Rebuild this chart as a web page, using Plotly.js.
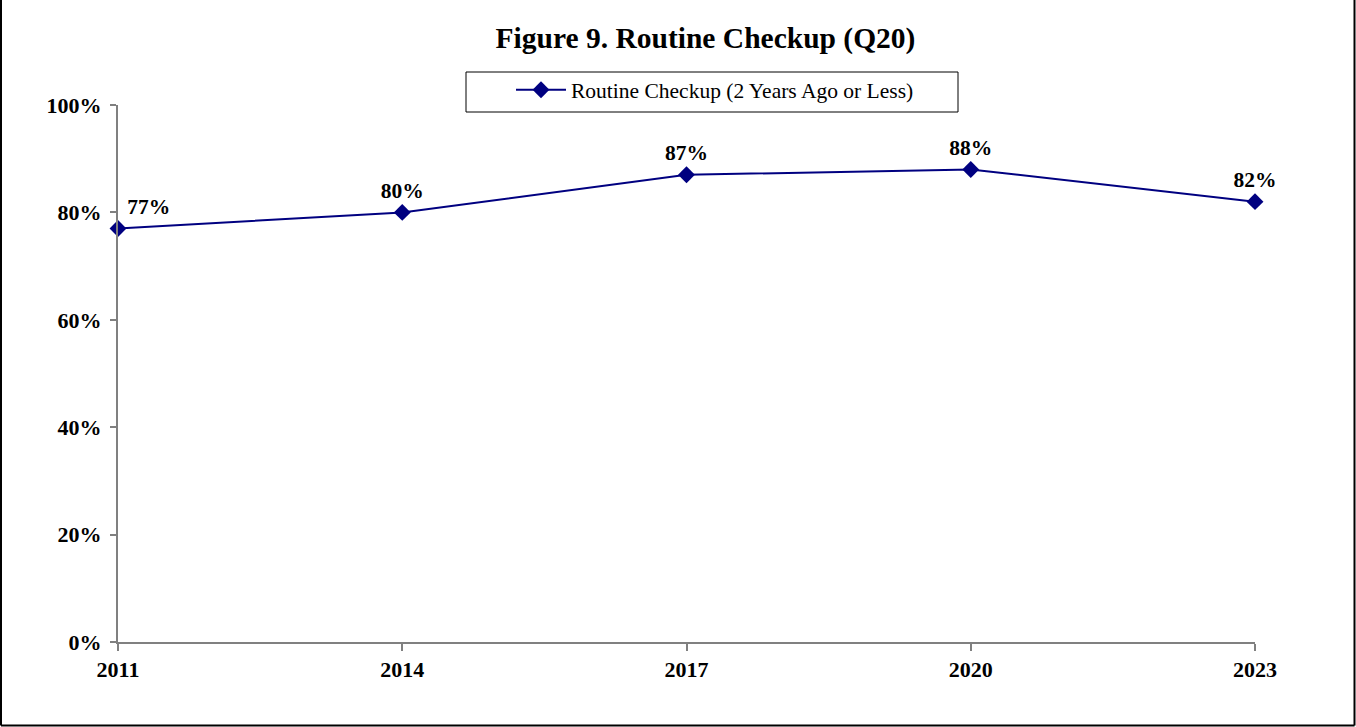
<!DOCTYPE html>
<html>
<head>
<meta charset="utf-8">
<script src="https://cdn.plot.ly/plotly-3.0.1.min.js"></script>
<style>
html,body{margin:0;padding:0;background:#fff;}
#chart{width:1356px;height:727px;}
</style>
</head>
<body>
<div id="chart"></div>
<script>
const years = [2011, 2014, 2017, 2020, 2023];
const checkupValues = [0.77, 0.80, 0.87, 0.88, 0.82];
const dataLabels = ['77%', '80%', '87%', '88%', '82%'];
const yTickVals = [0, 0.2, 0.4, 0.6, 0.8, 1.0];
const yTickText = ['0%', '20%', '40%', '60%', '80%', '100%'];
const seriesName = 'Routine Checkup (2 Years Ago or Less)';
const chartTitle = 'Figure 9. Routine Checkup (Q20)';

const font = 'Liberation Serif, Times New Roman, serif';
const navy = '#000080';

const trace = {
  x: years,
  y: checkupValues,
  type: 'scatter',
  mode: 'lines+markers+text',
  name: seriesName,
  line: {color: navy, width: 2},
  marker: {symbol: 'diamond', size: 13, color: navy},
  text: dataLabels,
  textposition: ['top right', 'top center', 'top center', 'top center', 'top center'],
  textfont: {family: font, size: 21.5, color: '#000', weight: 'bold'},
  cliponaxis: false,
  hoverinfo: 'x+y'
};

const frameLine = {color: '#000', width: 2};
const layout = {
  width: 1356,
  height: 727,
  paper_bgcolor: '#fff',
  plot_bgcolor: '#fff',
  margin: {l: 118, r: 101, t: 105, b: 85, pad: 0},
  title: {
    text: '<b>' + chartTitle + '</b>',
    font: {family: font, size: 29.5, color: '#000'},
    x: 705.5 / 1356, xanchor: 'center',
    y: 1 - 38 / 727, yanchor: 'middle'
  },
  showlegend: true,
  legend: {
    x: (511 - 118) / 1137, xanchor: 'left',
    y: 1.0666, yanchor: 'top',
    orientation: 'h',
    bgcolor: 'rgba(0,0,0,0)',
    borderwidth: 0,
    font: {family: font, size: 21.5, color: '#000'},
    itemwidth: 50
  },
  xaxis: {
    type: 'linear',
    range: [2011, 2023],
    tickmode: 'array',
    tickvals: years,
    ticktext: years.map(String),
    showgrid: false,
    zeroline: false,
    showline: true,
    linecolor: '#808080',
    linewidth: 2,
    ticks: 'outside',
    ticklen: 7,
    tickwidth: 2,
    tickcolor: '#808080',
    tickfont: {family: font, size: 22, color: '#000', weight: 'bold'},
    fixedrange: true
  },
  yaxis: {
    range: [0, 1],
    tickmode: 'array',
    tickvals: yTickVals,
    ticktext: yTickText,
    showgrid: false,
    zeroline: false,
    showline: true,
    linecolor: '#808080',
    linewidth: 2,
    ticks: 'outside',
    ticklen: 6,
    tickwidth: 2,
    tickcolor: '#808080',
    ticklabelstandoff: 4,
    tickfont: {family: font, size: 22, color: '#000', weight: 'bold'},
    fixedrange: true
  },
  shapes: [
    {type: 'rect', xref: 'paper', yref: 'paper', x0: (466 - 118) / 1137, x1: (958 - 118) / 1137, y0: (642 - 112) / 537, y1: (642 - 72) / 537, line: {color: '#000', width: 1}, fillcolor: 'rgba(0,0,0,0)', layer: 'below'},
    {type: 'line', xref: 'paper', yref: 'paper', x0: -117 / 1137, x1: -117 / 1137, y0: -83.5 / 537, y1: 1.3, line: frameLine},
    {type: 'line', xref: 'paper', yref: 'paper', x0: 1236.5 / 1137, x1: 1236.5 / 1137, y0: -83.5 / 537, y1: 1.3, line: frameLine},
    {type: 'line', xref: 'paper', yref: 'paper', x0: -117 / 1137, x1: 1236.5 / 1137, y0: -83.5 / 537, y1: -83.5 / 537, line: frameLine}
  ]
};

Plotly.newPlot('chart', [trace], layout, {displayModeBar: false});
</script>
</body>
</html>
